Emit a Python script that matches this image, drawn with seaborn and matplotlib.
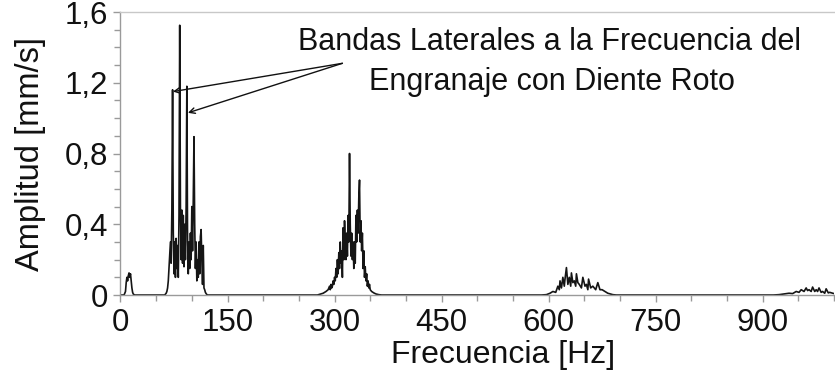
import numpy as np
import pandas as pd
import matplotlib
matplotlib.use("Agg")
import matplotlib.pyplot as plt
from matplotlib.ticker import FixedLocator, MultipleLocator, FuncFormatter
import seaborn as sns

# Spectrum clusters: frequency [Hz] and amplitude [mm/s]
freq_low = [0, 5, 7, 8, 9, 10, 11, 12, 13, 14, 15, 16, 17, 18, 20]
amp_low = [0, 0, 0.02, 0.07, 0.1, 0.08, 0.11, 0.125, 0.1, 0.12, 0.08, 0.04, 0.015, 0.005, 0]

freq_gear = [62, 63, 64, 65, 66, 67, 68, 69, 70, 71, 72, 73, 74, 75, 76, 77, 78, 79,
             80, 81, 82, 83, 84, 85, 86, 87, 88, 89, 90, 91, 92, 93, 94, 95, 96, 97,
             98, 99, 100, 101, 102, 103, 104, 105, 106, 107, 108, 109, 110, 111, 112,
             113, 114, 115, 116, 117, 118, 119, 120, 121, 122]
amp_gear = [0, 0.005, 0.01, 0.02, 0.04, 0.08, 0.15, 0.22, 0.3, 0.18, 0.48, 1.16, 0.35,
            0.12, 0.3, 0.1, 0.32, 0.15, 0.28, 0.1, 0.45, 1.525, 0.5, 0.2, 0.48, 0.18,
            0.45, 0.16, 0.4, 0.2, 0.5, 1.18, 0.3, 0.12, 0.3, 0.15, 0.35, 0.2, 0.5, 0.25,
            0.54, 0.895, 0.4, 0.15, 0.3, 0.08, 0.2, 0.1, 0.3, 0.12, 0.33, 0.37, 0.2,
            0.06, 0.28, 0.04, 0.03, 0.015, 0.008, 0.003, 0]

freq_h2 = [276, 280, 284, 288, 291, 293, 294, 295, 296, 297, 298, 299, 300, 301, 302,
           303, 304, 305, 306, 307, 308, 309, 310, 311, 312, 313, 314, 315, 316, 317,
           318, 319, 320, 321, 322, 323, 324, 325, 326, 327, 328, 329, 330, 331, 332,
           333, 334, 335, 336, 337, 338, 339, 340, 341, 342, 343, 344, 345, 346, 347,
           348, 349, 350, 352, 355, 358, 362, 366]
amp_h2 = [0, 0.005, 0.01, 0.02, 0.03, 0.05, 0.03, 0.06, 0.04, 0.05, 0.08, 0.06, 0.1,
          0.08, 0.15, 0.1, 0.2, 0.12, 0.24, 0.15, 0.3, 0.18, 0.25, 0.1, 0.38, 0.2, 0.42,
          0.3, 0.2, 0.35, 0.22, 0.45, 0.3, 0.8, 0.4, 0.22, 0.35, 0.2, 0.3, 0.15, 0.3,
          0.18, 0.45, 0.3, 0.48, 0.35, 0.55, 0.65, 0.3, 0.42, 0.25, 0.35, 0.15, 0.25,
          0.1, 0.16, 0.08, 0.12, 0.05, 0.08, 0.04, 0.06, 0.03, 0.02, 0.012, 0.006,
          0.002, 0]

freq_h3 = [590, 597, 602, 606, 610, 613, 615, 616, 618, 620, 622, 623, 625, 627, 629,
           631, 632, 634, 636, 638, 639, 641, 643, 646, 648, 651, 653, 655, 656, 659,
           662, 666, 669, 672, 675, 679, 683, 690, 695]
amp_h3 = [0, 0.002, 0.01, 0.02, 0.015, 0.05, 0.03, 0.08, 0.04, 0.1, 0.05, 0.09, 0.155,
          0.06, 0.1, 0.05, 0.125, 0.07, 0.08, 0.05, 0.12, 0.07, 0.06, 0.04, 0.1, 0.05,
          0.06, 0.03, 0.09, 0.04, 0.05, 0.03, 0.07, 0.03, 0.03, 0.02, 0.01, 0.002, 0]

freq_h4 = [915, 923, 930, 937, 942, 947, 951, 954, 958, 961, 963, 965, 968, 970, 973,
           975, 977, 979, 982, 984, 987, 989, 992, 994, 998, 1000]
amp_h4 = [0, 0.002, 0.006, 0.01, 0.008, 0.02, 0.015, 0.03, 0.02, 0.04, 0.025, 0.03,
          0.02, 0.045, 0.02, 0.03, 0.02, 0.04, 0.015, 0.02, 0.01, 0.035, 0.012, 0.015,
          0.01, 0.008]

frequency = freq_low + freq_gear + freq_h2 + freq_h3 + freq_h4
amplitude = amp_low + amp_gear + amp_h2 + amp_h3 + amp_h4
spectrum = pd.DataFrame({"Frecuencia": frequency, "Amplitud": amplitude})

y_ticks = [0, 0.4, 0.8, 1.2, 1.6]
x_ticks = [0, 150, 300, 450, 600, 750, 900]

sns.set_theme(style="white")
plt.rcParams["font.family"] = ["Liberation Sans", "DejaVu Sans"]

fig = plt.figure(figsize=(8.35, 3.79), dpi=100)
ax = fig.add_axes([0.1443, 0.2216, 0.8545, 0.7467])

sns.lineplot(data=spectrum, x="Frecuencia", y="Amplitud", sort=False,
             estimator=None, color="#151515", linewidth=1.2, ax=ax)

ax.set_xlim(0, 1000)
ax.set_ylim(0, 1.6)

spine_col = "#9a9a9a"
for side in ["left", "bottom", "top"]:
    ax.spines[side].set_visible(True)
    ax.spines[side].set_color(spine_col)
    ax.spines[side].set_linewidth(1.0)
ax.spines["right"].set_visible(False)
ax.spines["top"].set_color("#c8c8c8")

ax.yaxis.set_major_locator(FixedLocator(y_ticks))
ax.yaxis.set_minor_locator(MultipleLocator(0.1))
ax.xaxis.set_major_locator(FixedLocator(x_ticks))
ax.xaxis.set_minor_locator(MultipleLocator(50))
ax.yaxis.set_major_formatter(FuncFormatter(lambda v, p: f"{v:g}".replace(".", ",")))

ax.tick_params(axis="both", which="both", direction="out", color=spine_col,
               labelsize=22.5, labelcolor="#111111")
ax.tick_params(axis="both", which="major", length=5, width=1, pad=4)
ax.tick_params(axis="both", which="minor", length=4, width=1)
ax.tick_params(axis="y", which="both", left=True)
ax.tick_params(axis="x", which="both", bottom=True)

ax.set_xlabel("Frecuencia [Hz]", fontsize=23, color="#111111")
ax.set_ylabel("Amplitud [mm/s]", fontsize=23.5, color="#111111")
ax.xaxis.set_label_coords(0.536, -0.16)
ax.yaxis.set_label_coords(-0.104, 0.5)

ax.text(601, 1.43, "Bandas Laterales a la Frecuencia del", fontsize=22,
        ha="center", va="center", color="#111111")
ax.text(604, 1.205, "Engranaje con Diente Roto", fontsize=22,
        ha="center", va="center", color="#111111")

arrow_style = dict(arrowstyle="->", color="#111111", lw=1.0,
                   shrinkA=0, shrinkB=0, mutation_scale=10)
ax.annotate("", xy=(73.5, 1.15), xytext=(311, 1.31), arrowprops=arrow_style)
ax.annotate("", xy=(94.5, 1.03), xytext=(311, 1.31), arrowprops=arrow_style)

fig.savefig("out.png", dpi=100)
